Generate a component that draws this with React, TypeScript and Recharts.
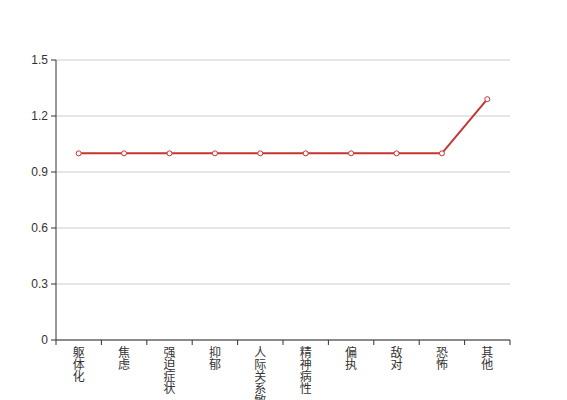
import React from "react";
import { LineChart, Line, XAxis, YAxis, CartesianGrid } from "recharts";

const categories = ["躯体化", "焦虑", "强迫症状", "抑郁", "人际关系敏感", "精神病性", "偏执", "敌对", "恐怖", "其他"];
const values = [1, 1, 1, 1, 1, 1, 1, 1, 1, 1.29];
const yTicks = [0, 0.3, 0.6, 0.9, 1.2, 1.5];

const data = categories.map((name, i) => ({ name, value: values[i] }));

const COLOR = "#c23531";
const AXIS = "#333";
const HALF_BAND = 22.7;

const XTick = (props: any) => {
  const { x, payload, index } = props;
  const chars: string[] = String(payload.value).split("");
  const top = 340;
  return (
    <g>
      <line x1={x - HALF_BAND} y1={top} x2={x - HALF_BAND} y2={top + 5} stroke={AXIS} />
      {index === categories.length - 1 && (
        <line x1={x + HALF_BAND} y1={top} x2={x + HALF_BAND} y2={top + 5} stroke={AXIS} />
      )}
      <text
        x={x}
        y={top + 17}
        textAnchor="middle"
        fill={AXIS}
        fontSize={12}
        fontFamily="'Noto Sans CJK SC', sans-serif"
      >
        {chars.map((c, i) => (
          <tspan key={i} x={x} dy={i === 0 ? 0 : 12}>
            {c}
          </tspan>
        ))}
      </text>
    </g>
  );
};

export default function App() {
  return (
    <div style={{ position: "absolute", left: 0, top: 0, width: 567, height: 400, background: "#fff" }}>
      <LineChart
        width={567}
        height={400}
        data={data}
        margin={{ top: 60, right: 57, bottom: 0, left: 0 }}
      >
        <CartesianGrid horizontal={true} vertical={false} stroke="#ccc" />
        <XAxis
          dataKey="name"
          height={60}
          interval={0}
          padding={{ left: HALF_BAND, right: HALF_BAND }}
          tickLine={false}
          axisLine={{ stroke: AXIS }}
          tick={<XTick />}
        />
        <YAxis
          width={56}
          domain={[0, 1.5]}
          ticks={yTicks}
          interval={0}
          tickSize={5}
          tickMargin={3}
          axisLine={{ stroke: AXIS }}
          tickLine={{ stroke: AXIS }}
          tick={{ fill: AXIS, fontSize: 12, fontFamily: "sans-serif" }}
        />
        <Line
          type="linear"
          dataKey="value"
          stroke={COLOR}
          strokeWidth={2}
          dot={{ r: 2.5, fill: "#fff", stroke: COLOR, strokeWidth: 1 }}
          isAnimationActive={false}
        />
      </LineChart>
    </div>
  );
}
